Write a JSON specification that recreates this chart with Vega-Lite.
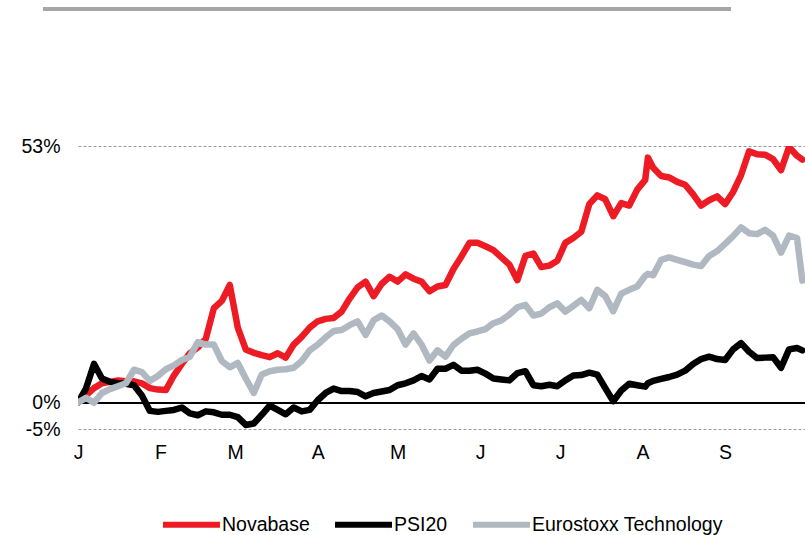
{
  "$schema": "https://vega.github.io/schema/vega-lite/v6.json",
  "autosize": "none",
  "width": 727,
  "height": 283,
  "padding": {"left": 78, "top": 146, "right": 0, "bottom": 106},
  "background": "white",
  "config": {"view": {"stroke": null}, "font": "Liberation Sans"},
  "data": {"values": [
    {"date":"2014-01-01","Novabase":0,"PSI20":0,"Eurostoxx Technology":0},
    {"date":"2014-01-04","Novabase":1.5,"PSI20":2.9,"Eurostoxx Technology":1.0},
    {"date":"2014-01-07","Novabase":3.0,"PSI20":8.0,"Eurostoxx Technology":0.0},
    {"date":"2014-01-10","Novabase":4.0,"PSI20":5.0,"Eurostoxx Technology":2.0},
    {"date":"2014-01-13","Novabase":4.3,"PSI20":4.3,"Eurostoxx Technology":2.8},
    {"date":"2014-01-16","Novabase":4.6,"PSI20":4.0,"Eurostoxx Technology":3.4},
    {"date":"2014-01-19","Novabase":4.4,"PSI20":3.9,"Eurostoxx Technology":4.0},
    {"date":"2014-01-22","Novabase":4.4,"PSI20":3.6,"Eurostoxx Technology":6.8},
    {"date":"2014-01-25","Novabase":4.0,"PSI20":1.5,"Eurostoxx Technology":6.3},
    {"date":"2014-01-28","Novabase":3.0,"PSI20":-1.7,"Eurostoxx Technology":4.5},
    {"date":"2014-01-31","Novabase":2.7,"PSI20":-1.9,"Eurostoxx Technology":5.5},
    {"date":"2014-02-03","Novabase":2.6,"PSI20":-1.7,"Eurostoxx Technology":6.9},
    {"date":"2014-02-06","Novabase":5.6,"PSI20":-1.5,"Eurostoxx Technology":7.7},
    {"date":"2014-02-09","Novabase":8.0,"PSI20":-1.0,"Eurostoxx Technology":8.8},
    {"date":"2014-02-12","Novabase":10.2,"PSI20":-2.2,"Eurostoxx Technology":9.5},
    {"date":"2014-02-15","Novabase":11.4,"PSI20":-2.6,"Eurostoxx Technology":12.5},
    {"date":"2014-02-18","Novabase":13.2,"PSI20":-1.8,"Eurostoxx Technology":12.0},
    {"date":"2014-02-21","Novabase":19.5,"PSI20":-2.0,"Eurostoxx Technology":12.0},
    {"date":"2014-02-24","Novabase":21.0,"PSI20":-2.5,"Eurostoxx Technology":8.6},
    {"date":"2014-02-27","Novabase":24.3,"PSI20":-2.5,"Eurostoxx Technology":7.3},
    {"date":"2014-03-02","Novabase":15.5,"PSI20":-3.0,"Eurostoxx Technology":8.2},
    {"date":"2014-03-05","Novabase":11.0,"PSI20":-4.6,"Eurostoxx Technology":5.0},
    {"date":"2014-03-08","Novabase":10.3,"PSI20":-4.3,"Eurostoxx Technology":2.0},
    {"date":"2014-03-11","Novabase":9.8,"PSI20":-2.5,"Eurostoxx Technology":5.8},
    {"date":"2014-03-14","Novabase":9.4,"PSI20":-0.6,"Eurostoxx Technology":6.5},
    {"date":"2014-03-17","Novabase":10.2,"PSI20":-1.5,"Eurostoxx Technology":6.8},
    {"date":"2014-03-20","Novabase":9.3,"PSI20":-2.4,"Eurostoxx Technology":6.9},
    {"date":"2014-03-23","Novabase":12.0,"PSI20":-1.0,"Eurostoxx Technology":7.2},
    {"date":"2014-03-26","Novabase":13.6,"PSI20":-1.8,"Eurostoxx Technology":8.6},
    {"date":"2014-03-29","Novabase":15.5,"PSI20":-1.5,"Eurostoxx Technology":10.8},
    {"date":"2014-04-01","Novabase":16.8,"PSI20":0.5,"Eurostoxx Technology":12.0},
    {"date":"2014-04-04","Novabase":17.3,"PSI20":2.0,"Eurostoxx Technology":13.5},
    {"date":"2014-04-07","Novabase":17.5,"PSI20":2.9,"Eurostoxx Technology":14.8},
    {"date":"2014-04-10","Novabase":18.8,"PSI20":2.4,"Eurostoxx Technology":15.0},
    {"date":"2014-04-13","Novabase":21.5,"PSI20":2.4,"Eurostoxx Technology":16.0},
    {"date":"2014-04-16","Novabase":23.8,"PSI20":2.2,"Eurostoxx Technology":16.8},
    {"date":"2014-04-19","Novabase":25.0,"PSI20":1.3,"Eurostoxx Technology":14.0},
    {"date":"2014-04-22","Novabase":22.0,"PSI20":2.0,"Eurostoxx Technology":17.0},
    {"date":"2014-04-25","Novabase":24.5,"PSI20":2.3,"Eurostoxx Technology":18.0},
    {"date":"2014-04-28","Novabase":26.0,"PSI20":2.6,"Eurostoxx Technology":16.8},
    {"date":"2014-05-01","Novabase":25.0,"PSI20":3.6,"Eurostoxx Technology":15.2},
    {"date":"2014-05-04","Novabase":26.5,"PSI20":4.0,"Eurostoxx Technology":12.0},
    {"date":"2014-05-07","Novabase":25.6,"PSI20":4.6,"Eurostoxx Technology":14.3},
    {"date":"2014-05-10","Novabase":25.0,"PSI20":5.5,"Eurostoxx Technology":12.0},
    {"date":"2014-05-13","Novabase":23.0,"PSI20":4.8,"Eurostoxx Technology":8.7},
    {"date":"2014-05-16","Novabase":24.0,"PSI20":7.0,"Eurostoxx Technology":10.8},
    {"date":"2014-05-19","Novabase":24.3,"PSI20":7.0,"Eurostoxx Technology":9.5},
    {"date":"2014-05-22","Novabase":27.6,"PSI20":7.8,"Eurostoxx Technology":11.9},
    {"date":"2014-05-25","Novabase":30.2,"PSI20":6.6,"Eurostoxx Technology":13.2},
    {"date":"2014-05-28","Novabase":33.0,"PSI20":6.6,"Eurostoxx Technology":14.3},
    {"date":"2014-05-31","Novabase":33.0,"PSI20":6.8,"Eurostoxx Technology":14.7},
    {"date":"2014-06-03","Novabase":32.3,"PSI20":6.0,"Eurostoxx Technology":15.2},
    {"date":"2014-06-06","Novabase":31.5,"PSI20":5.0,"Eurostoxx Technology":16.4},
    {"date":"2014-06-09","Novabase":30.0,"PSI20":4.8,"Eurostoxx Technology":17.0},
    {"date":"2014-06-12","Novabase":28.5,"PSI20":4.6,"Eurostoxx Technology":18.2},
    {"date":"2014-06-15","Novabase":25.3,"PSI20":6.1,"Eurostoxx Technology":19.7},
    {"date":"2014-06-18","Novabase":30.3,"PSI20":6.5,"Eurostoxx Technology":20.2},
    {"date":"2014-06-21","Novabase":30.8,"PSI20":3.6,"Eurostoxx Technology":18.0},
    {"date":"2014-06-24","Novabase":28.0,"PSI20":3.4,"Eurostoxx Technology":18.4},
    {"date":"2014-06-27","Novabase":28.3,"PSI20":3.7,"Eurostoxx Technology":19.7},
    {"date":"2014-06-30","Novabase":29.3,"PSI20":3.4,"Eurostoxx Technology":20.5},
    {"date":"2014-07-03","Novabase":33.0,"PSI20":4.6,"Eurostoxx Technology":18.8},
    {"date":"2014-07-06","Novabase":34.0,"PSI20":5.6,"Eurostoxx Technology":20.0},
    {"date":"2014-07-09","Novabase":35.3,"PSI20":5.7,"Eurostoxx Technology":21.2},
    {"date":"2014-07-12","Novabase":41.0,"PSI20":6.2,"Eurostoxx Technology":19.5},
    {"date":"2014-07-15","Novabase":42.8,"PSI20":5.8,"Eurostoxx Technology":23.3},
    {"date":"2014-07-18","Novabase":42.0,"PSI20":3.0,"Eurostoxx Technology":22.0},
    {"date":"2014-07-21","Novabase":38.5,"PSI20":0.3,"Eurostoxx Technology":18.9},
    {"date":"2014-07-24","Novabase":41.2,"PSI20":2.5,"Eurostoxx Technology":22.5},
    {"date":"2014-07-27","Novabase":40.7,"PSI20":3.9,"Eurostoxx Technology":23.3},
    {"date":"2014-07-30","Novabase":44.0,"PSI20":3.6,"Eurostoxx Technology":24.0},
    {"date":"2014-08-02","Novabase":46.0,"PSI20":3.3,"Eurostoxx Technology":26.2},
    {"date":"2014-08-03","Novabase":50.6,"PSI20":4.0,"Eurostoxx Technology":26.6},
    {"date":"2014-08-05","Novabase":48.5,"PSI20":4.5,"Eurostoxx Technology":26.3},
    {"date":"2014-08-08","Novabase":46.8,"PSI20":4.9,"Eurostoxx Technology":29.5},
    {"date":"2014-08-11","Novabase":46.5,"PSI20":5.3,"Eurostoxx Technology":30.0},
    {"date":"2014-08-14","Novabase":45.6,"PSI20":5.8,"Eurostoxx Technology":29.5},
    {"date":"2014-08-17","Novabase":45.0,"PSI20":6.6,"Eurostoxx Technology":29.0},
    {"date":"2014-08-20","Novabase":43.0,"PSI20":8.0,"Eurostoxx Technology":28.5},
    {"date":"2014-08-23","Novabase":40.7,"PSI20":9.0,"Eurostoxx Technology":28.2},
    {"date":"2014-08-26","Novabase":41.8,"PSI20":9.5,"Eurostoxx Technology":30.3},
    {"date":"2014-08-29","Novabase":42.6,"PSI20":9.0,"Eurostoxx Technology":31.3},
    {"date":"2014-09-01","Novabase":41.0,"PSI20":8.8,"Eurostoxx Technology":32.8},
    {"date":"2014-09-04","Novabase":43.5,"PSI20":11.0,"Eurostoxx Technology":34.4},
    {"date":"2014-09-07","Novabase":47.0,"PSI20":12.3,"Eurostoxx Technology":36.2},
    {"date":"2014-09-10","Novabase":51.9,"PSI20":10.5,"Eurostoxx Technology":35.0},
    {"date":"2014-09-13","Novabase":51.3,"PSI20":9.2,"Eurostoxx Technology":34.8},
    {"date":"2014-09-16","Novabase":51.2,"PSI20":9.3,"Eurostoxx Technology":35.7},
    {"date":"2014-09-19","Novabase":50.3,"PSI20":9.4,"Eurostoxx Technology":34.5},
    {"date":"2014-09-22","Novabase":48.0,"PSI20":7.2,"Eurostoxx Technology":31.0},
    {"date":"2014-09-25","Novabase":52.8,"PSI20":11.0,"Eurostoxx Technology":34.5},
    {"date":"2014-09-28","Novabase":51.0,"PSI20":11.3,"Eurostoxx Technology":34.0},
    {"date":"2014-09-30","Novabase":50.2,"PSI20":10.8,"Eurostoxx Technology":25.2}
  ]},
  "layer": [
    {
      "mark": {"type": "rule", "color": "#A6A6A6", "strokeWidth": 3},
      "encoding": {
        "x": {"datum": {"year": 2013, "month": 12, "date": 19, "utc": true}, "type": "temporal"},
        "x2": {"datum": {"year": 2014, "month": 9, "date": 3, "utc": true}},
        "y": {"datum": 81.3, "type": "quantitative"}
      }
    },
    {
      "mark": {"type": "rule", "color": "black", "strokeWidth": 1},
      "encoding": {"y": {"datum": 0, "type": "quantitative"}}
    },
    {
      "transform": [{"fold": ["Novabase", "PSI20", "Eurostoxx Technology"], "as": ["series", "value"]}],
      "mark": {"type": "line", "strokeWidth": 6.5, "strokeJoin": "round", "strokeCap": "round", "clip": true},
      "encoding": {
        "x": {
          "field": "date", "type": "temporal",
          "scale": {"type": "utc", "domain": [{"year": 2014, "month": 1, "date": 1, "utc": true}, {"year": 2014, "month": 10, "date": 1, "utc": true}]},
          "axis": {
            "title": null, "domain": false, "ticks": false, "grid": false,
            "values": [
              {"year": 2014, "month": 1, "date": 1, "utc": true},
              {"year": 2014, "month": 2, "date": 1, "utc": true},
              {"year": 2014, "month": 3, "date": 1, "utc": true},
              {"year": 2014, "month": 4, "date": 1, "utc": true},
              {"year": 2014, "month": 5, "date": 1, "utc": true},
              {"year": 2014, "month": 6, "date": 1, "utc": true},
              {"year": 2014, "month": 7, "date": 1, "utc": true},
              {"year": 2014, "month": 8, "date": 1, "utc": true},
              {"year": 2014, "month": 9, "date": 1, "utc": true}
            ],
            "labelExpr": "slice(utcFormat(datum.value, '%b'), 0, 1)",
            "labelFont": "Liberation Sans", "labelFontSize": 19.5, "labelColor": "black",
            "labelPadding": 14, "labelFlush": false, "labelOverlap": false
          }
        },
        "y": {
          "field": "value", "type": "quantitative",
          "scale": {"domain": [-5.44, 53], "nice": false, "zero": false},
          "axis": {
            "title": null, "domain": false, "ticks": false,
            "values": [-5.44, 0, 53],
            "labelExpr": "round(datum.value) + '%'",
            "grid": true, "gridDash": [3, 2], "gridColor": "#999999", "gridWidth": 1,
            "labelFont": "Liberation Sans", "labelFontSize": 19.5, "labelColor": "black",
            "labelPadding": 18, "labelFlush": false, "labelOverlap": false
          }
        },
        "color": {
          "field": "series", "type": "nominal",
          "scale": {"domain": ["Novabase", "PSI20", "Eurostoxx Technology"], "range": ["#ED1C24", "#000000", "#B0B8C1"]},
          "legend": {
            "orient": "none", "legendX": 82, "legendY": 347, "direction": "horizontal", "title": null,
            "symbolType": "stroke", "symbolSize": 3249, "symbolStrokeWidth": 6,
            "labelFont": "Liberation Sans", "labelFontSize": 19.5, "labelColor": "black", "labelLimit": 0,
            "labelOffset": -1, "columnPadding": 13, "padding": 0
          }
        }
      }
    }
  ]
}
